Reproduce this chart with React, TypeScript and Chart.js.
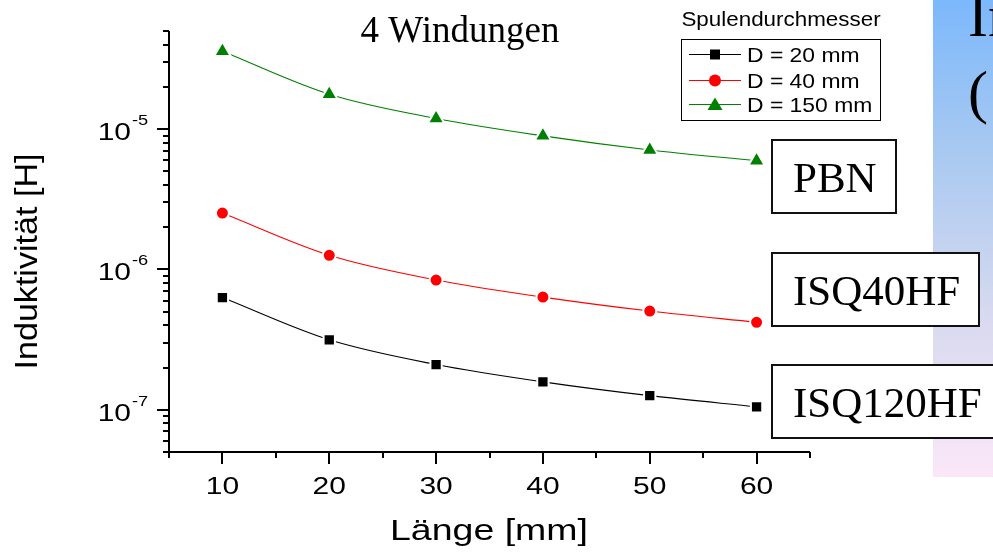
import React, { useEffect, useRef } from 'react';
import { Chart, registerables } from 'chart.js';

Chart.register(...registerables);

// ---------- data ----------
const lengthMm = [10, 20, 30, 40, 50, 60];
const inductD20 = [6.3e-7, 3.15e-7, 2.1e-7, 1.58e-7, 1.26e-7, 1.05e-7];
const inductD40 = [2.52e-6, 1.26e-6, 8.4e-7, 6.35e-7, 5.05e-7, 4.2e-7];
const inductD150 = [3.58e-5, 1.77e-5, 1.19e-5, 8.95e-6, 7.1e-6, 5.95e-6];
const seriesLabels = ['D = 20 mm', 'D = 40 mm', 'D = 150 mm'];
const seriesColors = ['#000000', '#ff0000', '#008000'];
const seriesMarkers = ['rect', 'circle', 'triangle'];
const xTickLabels = ['10', '20', '30', '40', '50', '60'];
const yTickExponents = ['-7', '-6', '-5'];
const chartTitle = '4 Windungen';
const legendTitle = 'Spulendurchmesser';
const xAxisTitle = 'Länge [mm]';
const yAxisTitle = 'Induktivität [H]';
const materialLabels = ['PBN', 'ISQ40HF', 'ISQ120HF'];
const sideTextLines = ['In', '('];

const W = 993;
const H = 552;
const SANS = '"Liberation Sans", Arial, sans-serif';
const SERIF = '"Liberation Serif", "Times New Roman", serif';

function txt(
  ctx: CanvasRenderingContext2D,
  s: string,
  x: number,
  y: number,
  font: string,
  align: CanvasTextAlign,
  sx = 1,
  baseline: CanvasTextBaseline = 'alphabetic',
  color = '#000'
) {
  ctx.save();
  ctx.translate(x, y);
  ctx.scale(sx, 1);
  ctx.font = font;
  ctx.textAlign = align;
  ctx.textBaseline = baseline;
  ctx.fillStyle = color;
  ctx.fillText(s, 0, 0);
  ctx.restore();
}

function seg(ctx: CanvasRenderingContext2D, x1: number, y1: number, x2: number, y2: number) {
  ctx.beginPath();
  ctx.moveTo(x1, y1);
  ctx.lineTo(x2, y2);
  ctx.stroke();
}

function marker(ctx: CanvasRenderingContext2D, style: string, x: number, y: number, color: string) {
  ctx.save();
  ctx.fillStyle = color;
  ctx.beginPath();
  if (style === 'rect') {
    ctx.rect(x - 5, y - 5, 10, 10);
  } else if (style === 'circle') {
    ctx.arc(x, y, 6, 0, Math.PI * 2);
  } else {
    ctx.moveTo(x, y - 7);
    ctx.lineTo(x + 7.5, y + 5.5);
    ctx.lineTo(x - 7.5, y + 5.5);
    ctx.closePath();
  }
  ctx.fill();
  ctx.restore();
}

const decorPlugin = {
  id: 'decor',
  beforeDraw(chart: any) {
    const ctx: CanvasRenderingContext2D = chart.ctx;
    ctx.save();
    ctx.fillStyle = '#ffffff';
    ctx.fillRect(0, 0, W, H);
    // right side gradient panel
    const g = ctx.createLinearGradient(0, 0, 0, 477);
    g.addColorStop(0, '#7cb8fc');
    g.addColorStop(0.3, '#a6c8f1');
    g.addColorStop(0.65, '#d6d9ef');
    g.addColorStop(1, '#fae7f8');
    ctx.fillStyle = g;
    ctx.fillRect(933, 0, W - 933, 477);
    ctx.restore();
    txt(ctx, sideTextLines[0], 968, 36, `60px ${SERIF}`, 'left');
    txt(ctx, sideTextLines[1], 968, 112, `60px ${SERIF}`, 'left');
  },
  beforeDatasetsDraw(chart: any) {
    const ctx: CanvasRenderingContext2D = chart.ctx;
    const { left, right, top, bottom } = chart.chartArea;
    const xs = chart.scales.x;
    const ys = chart.scales.y;
    ctx.save();
    ctx.strokeStyle = '#000';
    ctx.lineWidth = 2;
    seg(ctx, left, top, left, bottom + 1);
    seg(ctx, left - 1, bottom, right, bottom);
    for (let v = xs.min; v <= xs.max + 1e-9; v += 5) {
      const px = Math.round(xs.getPixelForValue(v));
      const major = Math.round(v) % 10 === 0;
      seg(ctx, px, bottom, px, bottom + (major ? 12 : 6));
    }
    for (let e = -8; e <= -5; e++) {
      for (let m = 1; m <= 9; m++) {
        const v = m * Math.pow(10, e);
        if (v < ys.min * 0.999 || v > ys.max * 1.001) continue;
        const py = Math.round(ys.getPixelForValue(v));
        seg(ctx, left - (m === 1 ? 12 : 6), py, left, py);
      }
    }
    ctx.restore();

    // tick labels
    xTickLabels.forEach((l) => {
      const px = xs.getPixelForValue(Number(l));
      txt(ctx, l, px, 494, `24px ${SANS}`, 'center', 1.25);
    });
    yTickExponents.forEach((ex) => {
      const py = ys.getPixelForValue(Math.pow(10, Number(ex)));
      txt(ctx, '10', 131, py + 11, `24px ${SANS}`, 'right', 1.25);
      txt(ctx, ex, 132, py - 4, `14px ${SANS}`, 'left', 1.3);
    });

    // axis titles
    txt(ctx, xAxisTitle, 489, 540, `30px ${SANS}`, 'center', 1.25);
    ctx.save();
    ctx.translate(37, 261.5);
    ctx.rotate(-Math.PI / 2);
    txt(ctx, yAxisTitle, 0, 0, `31px ${SANS}`, 'center', 1.1);
    ctx.restore();
  },
  afterDraw(chart: any) {
    const ctx: CanvasRenderingContext2D = chart.ctx;
    // chart title
    txt(ctx, chartTitle, 460, 42, `37px ${SERIF}`, 'center');

    // legend
    txt(ctx, legendTitle, 781, 26, `20px ${SANS}`, 'center', 1.12);
    ctx.save();
    ctx.strokeStyle = '#000';
    ctx.lineWidth = 1;
    ctx.strokeRect(681.5, 39.5, 199, 81);
    ctx.restore();
    const rows = [54, 80, 104];
    seriesLabels.forEach((l, i) => {
      ctx.save();
      ctx.strokeStyle = seriesColors[i];
      ctx.lineWidth = 1;
      seg(ctx, 689, rows[i] + 0.5, 741, rows[i] + 0.5);
      ctx.restore();
      marker(ctx, seriesMarkers[i], 715, rows[i] + 0.5, seriesColors[i]);
      txt(ctx, l, 747, rows[i] + 8, `21px ${SANS}`, 'left', 1.09);
    });

    // material label boxes
    const boxes = [
      { x: 772, y: 140, w: 124, h: 73 },
      { x: 772, y: 253, w: 207, h: 73 },
      { x: 772, y: 365, w: 240, h: 73 },
    ];
    materialLabels.forEach((l, i) => {
      const b = boxes[i];
      ctx.save();
      ctx.fillStyle = '#fff';
      ctx.fillRect(b.x, b.y, b.w, b.h);
      ctx.strokeStyle = '#111';
      ctx.lineWidth = 2;
      ctx.strokeRect(b.x, b.y, b.w, b.h);
      ctx.restore();
      txt(ctx, l, 793, b.y + b.h / 2 + 15, `43px ${SERIF}`, 'left');
    });
  },
};

export default function App() {
  const ref = useRef<HTMLCanvasElement>(null);
  useEffect(() => {
    const mk = (vals: number[]) => lengthMm.map((x, i) => ({ x, y: vals[i] }));
    const series = [inductD20, inductD40, inductD150];
    const radii = [8, 6.5, 9.5];
    const chart = new Chart(ref.current as HTMLCanvasElement, {
      type: 'line',
      data: {
        datasets: series.map((vals, i) => ({
          label: seriesLabels[i],
          data: mk(vals),
          borderColor: seriesColors[i],
          borderWidth: 1.1,
          backgroundColor: seriesColors[i],
          pointStyle: seriesMarkers[i] as any,
          pointRadius: radii[i],
          pointBackgroundColor: seriesColors[i],
          pointBorderColor: '#ffffff',
          pointBorderWidth: 2,
          cubicInterpolationMode: 'monotone' as const,
          fill: false,
        })),
      },
      options: {
        responsive: false,
        maintainAspectRatio: false,
        animation: false,
        layout: { padding: { left: 0, top: 31, right: 183, bottom: 0 } },
        plugins: { legend: { display: false }, tooltip: { enabled: false }, title: { display: false } },
        scales: {
          x: {
            type: 'linear',
            min: 5,
            max: 65,
            ticks: { display: false },
            grid: { display: false },
            border: { display: false },
            afterFit: (s: any) => {
              s.height = 100;
            },
          },
          y: {
            type: 'logarithmic',
            min: 5e-8,
            max: 5e-5,
            ticks: { display: false },
            grid: { display: false },
            border: { display: false },
            afterFit: (s: any) => {
              s.width = 169;
            },
          },
        },
      },
      plugins: [decorPlugin],
    });
    return () => chart.destroy();
  }, []);
  return (
    <div style={{ position: 'fixed', left: 0, top: 0, width: W, height: H, background: '#fff' }}>
      <canvas ref={ref} width={W} height={H} style={{ display: 'block', width: W, height: H }} />
    </div>
  );
}
